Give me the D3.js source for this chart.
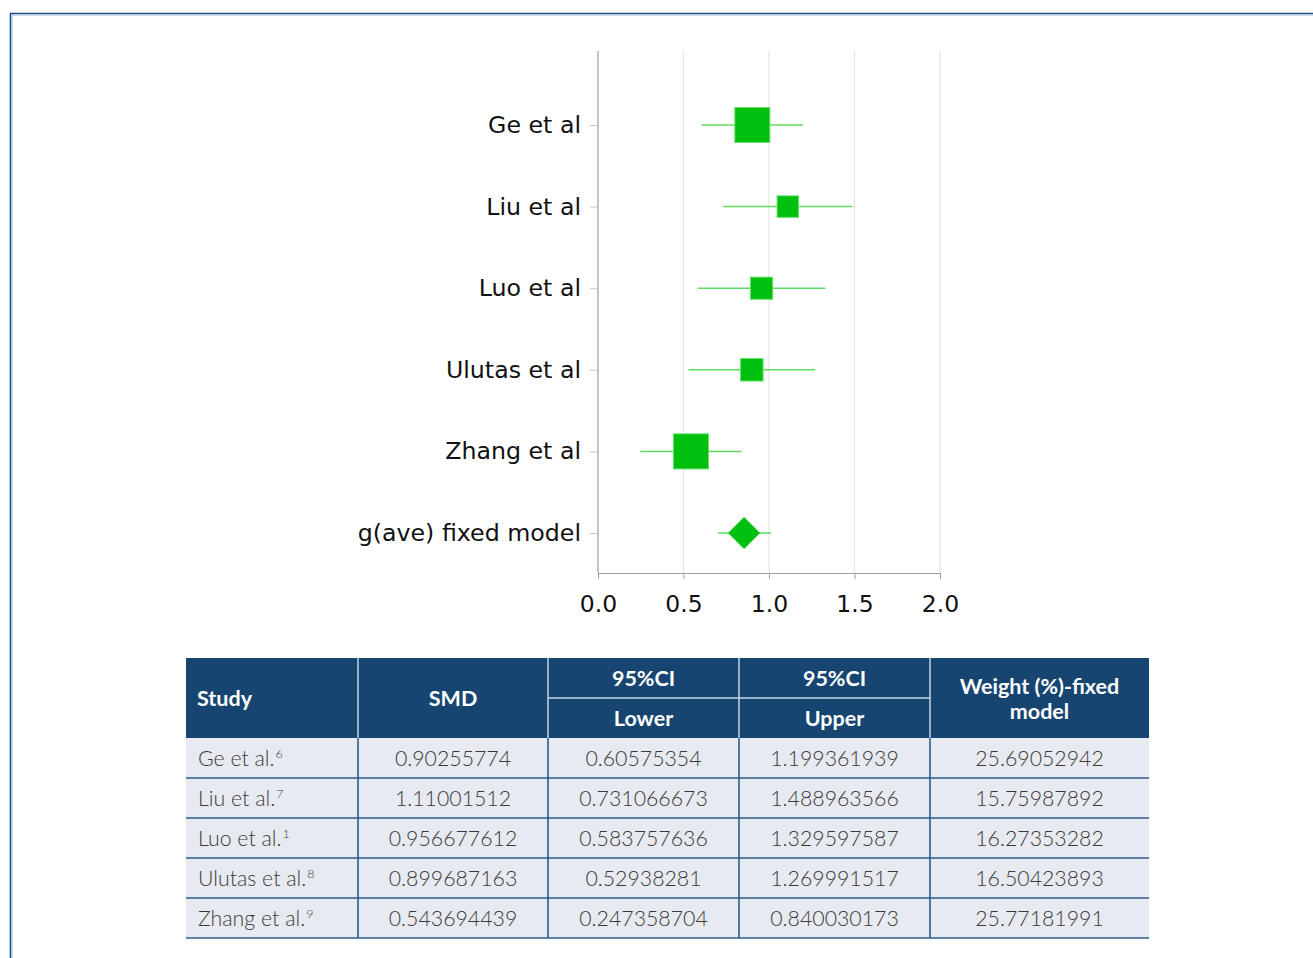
<!DOCTYPE html>
<html>
<head>
<meta charset="utf-8">
<script src="https://cdn.jsdelivr.net/npm/d3@7"></script>
<style>
  html, body { margin: 0; padding: 0; background: #ffffff; }
  svg { display: block; }
</style>
</head>
<body>
<svg id="chart" width="1313" height="958"></svg>
<script>
// ---------- data ----------
const studies = ["Ge et al", "Liu et al", "Luo et al", "Ulutas et al", "Zhang et al"];
const tableStudies = ["Ge et al.", "Liu et al.", "Luo et al.", "Ulutas et al.", "Zhang et al."];
const refs = ["6", "7", "1", "8", "9"];
const smd = [0.90255774, 1.11001512, 0.956677612, 0.899687163, 0.543694439];
const lower = [0.60575354, 0.731066673, 0.583757636, 0.52938281, 0.247358704];
const upper = [1.199361939, 1.488963566, 1.329597587, 1.269991517, 0.840030173];
const weight = [25.69052942, 15.75987892, 16.27353282, 16.50423893, 25.77181991];
const smdText = ["0.90255774", "1.11001512", "0.956677612", "0.899687163", "0.543694439"];
const lowerText = ["0.60575354", "0.731066673", "0.583757636", "0.52938281", "0.247358704"];
const upperText = ["1.199361939", "1.488963566", "1.329597587", "1.269991517", "0.840030173"];
const weightText = ["25.69052942", "15.75987892", "16.27353282", "16.50423893", "25.77181991"];
const pooledLabel = "g(ave) fixed model";
const pooled = 0.854;
const pooledLower = 0.702;
const pooledUpper = 1.012;
const xTicks = [0, 0.5, 1.0, 1.5, 2.0];

const svg = d3.select("#chart");

// ---------- frame ----------
svg.append("path").attr("d", "M10.5,958 V13.5 H1313")
  .attr("fill", "none").attr("stroke", "#1f4f86").attr("stroke-width", 1.6);
svg.append("path").attr("d", "M12,958 V15 H1313")
  .attr("fill", "none").attr("stroke", "#9dbbe0").attr("stroke-width", 1);

// ---------- forest plot ----------
const x = d3.scaleLinear().domain([0, 2]).range([598, 940]);
const rows = studies.concat([pooledLabel]);
const y = d3.scalePoint().domain(rows).range([125, 533]);
const plotTop = 51, plotBottom = 573;
const size = d3.scaleLinear().domain([0, 25.7]).range([0, 35]);
const plotFont = "'DejaVu Sans', Verdana, sans-serif";

const g = svg.append("g");

// grid lines
g.selectAll("line.grid").data(xTicks.slice(1)).join("line")
  .attr("class", "grid")
  .attr("x1", d => x(d)).attr("x2", d => x(d))
  .attr("y1", plotTop).attr("y2", plotBottom)
  .attr("stroke", "#e3e3e3").attr("stroke-width", 1.2);

// x axis
const xAxis = d3.axisBottom(x).tickValues(xTicks).tickFormat(d3.format(".1f")).tickSize(6).tickSizeOuter(0);
const gx = g.append("g").attr("transform", `translate(0,${plotBottom})`).call(xAxis);
gx.select(".domain").attr("stroke", "#a0a0a0").attr("stroke-width", 1.2);
gx.selectAll(".tick line").attr("stroke", "#a0a0a0");
gx.selectAll(".tick text").attr("font-family", plotFont)
  .attr("font-size", 23.5).attr("fill", "#111").attr("dy", "0").attr("y", 39);

// y axis
const yAxis = d3.axisLeft(y).tickSize(8).tickPadding(9).tickSizeOuter(0);
const gy = g.append("g").attr("transform", `translate(598,0)`).call(yAxis);
gy.select(".domain").attr("d", `M0,${plotTop}V${plotBottom}`).attr("stroke", "#a0a0a0").attr("stroke-width", 1.2);
gy.selectAll(".tick line").attr("stroke", "#c8c8c8");
gy.selectAll(".tick text").attr("font-family", plotFont)
  .attr("font-size", 23.7).attr("fill", "#111");

// CI lines
const ciData = studies.map((s, i) => ({ s, lo: lower[i], hi: upper[i] }))
  .concat([{ s: pooledLabel, lo: pooledLower, hi: pooledUpper }]);
g.selectAll("line.ci").data(ciData).join("line")
  .attr("class", "ci")
  .attr("x1", d => x(d.lo)).attr("x2", d => x(d.hi))
  .attr("y1", d => y(d.s)).attr("y2", d => y(d.s))
  .attr("stroke", "#5fdc5f").attr("stroke-width", 1.5);

// squares
g.selectAll("rect.pt").data(studies.map((s, i) => ({ s, v: smd[i], w: weight[i] }))).join("rect")
  .attr("class", "pt")
  .attr("x", d => x(d.v) - size(d.w) / 2)
  .attr("y", d => y(d.s) - size(d.w) / 2)
  .attr("width", d => size(d.w)).attr("height", d => size(d.w))
  .attr("fill", "#00c00f").attr("stroke", "#66e06a").attr("stroke-width", 1);

// diamond
const dx = x(pooled), dy = y(pooledLabel), hw = 16, hh = 16;
g.append("path")
  .attr("d", `M${dx - hw},${dy} L${dx},${dy - hh} L${dx + hw},${dy} L${dx},${dy + hh} Z`)
  .attr("fill", "#00c00f");

// ---------- table ----------
const colEdges = [186, 358, 548, 739, 930, 1149];
const headTop = 658, headMid = 698, headBottom = 738, rowH = 40;
const headBg = "#174572";
const rowBg = "#e7eaf0";
const lineColor = "#2d5b8c";
const t = svg.append("g");

t.append("rect").attr("x", colEdges[0]).attr("y", headTop)
  .attr("width", colEdges[5] - colEdges[0]).attr("height", headBottom - headTop)
  .attr("fill", headBg);

// header separators (light)
t.selectAll("line.hsep").data(colEdges.slice(1, 5)).join("line")
  .attr("x1", d => d).attr("x2", d => d).attr("y1", headTop).attr("y2", headBottom)
  .attr("stroke", "#c9d5e3").attr("stroke-width", 1.5);
t.append("line").attr("x1", colEdges[2]).attr("x2", colEdges[4])
  .attr("y1", headMid).attr("y2", headMid)
  .attr("stroke", "#c9d5e3").attr("stroke-width", 1.5);

const headFont = "Lato, 'Open Sans', sans-serif";
function headText(txt, xx, yy, anchor) {
  t.append("text").attr("x", xx).attr("y", yy).attr("text-anchor", anchor || "middle")
    .attr("dominant-baseline", "central")
    .attr("font-family", headFont).attr("font-weight", 700).attr("font-size", 21.5)
    .attr("fill", "#ffffff").text(txt);
}
headText("Study", 197, 698, "start");
headText("SMD", (colEdges[1] + colEdges[2]) / 2, 698);
headText("95%CI", (colEdges[2] + colEdges[3]) / 2, 678);
headText("Lower", (colEdges[2] + colEdges[3]) / 2, 718);
headText("95%CI", (colEdges[3] + colEdges[4]) / 2, 678);
headText("Upper", (colEdges[3] + colEdges[4]) / 2, 718);
headText("Weight (%)-fixed", (colEdges[4] + colEdges[5]) / 2, 686);
headText("model", (colEdges[4] + colEdges[5]) / 2, 711);

// body rows
const body = tableStudies.map((s, i) => ({ s, ref: refs[i], vals: [smdText[i], lowerText[i], upperText[i], weightText[i]] }));
const rowG = t.selectAll("g.row").data(body).join("g")
  .attr("class", "row")
  .attr("transform", (d, i) => `translate(0,${headBottom + i * rowH})`);
rowG.append("rect").attr("x", colEdges[0]).attr("y", 0)
  .attr("width", colEdges[5] - colEdges[0]).attr("height", rowH).attr("fill", rowBg);
const st = rowG.append("text").attr("x", 198).attr("y", rowH / 2)
  .attr("dominant-baseline", "central")
  .attr("font-family", headFont).attr("font-weight", 300).attr("font-size", 21.3)
  .attr("fill", "#3a3a3a");
st.append("tspan").text(d => d.s);
st.append("tspan").attr("font-size", 12.5).attr("dy", -5).attr("dx", 1).text(d => d.ref);
rowG.each(function (d) {
  d3.select(this).selectAll("text.val").data(d.vals).join("text")
    .attr("class", "val")
    .attr("x", (v, j) => (colEdges[j + 1] + colEdges[j + 2]) / 2)
    .attr("y", rowH / 2)
    .attr("text-anchor", "middle").attr("dominant-baseline", "central")
    .attr("font-family", headFont).attr("font-weight", 300).attr("font-size", 21.3)
    .attr("fill", "#3a3a3a").text(v => v);
});

// body lines
const nRows = body.length;
t.selectAll("line.rline").data(d3.range(1, nRows + 1)).join("line")
  .attr("x1", colEdges[0]).attr("x2", colEdges[5])
  .attr("y1", i => headBottom + i * rowH).attr("y2", i => headBottom + i * rowH)
  .attr("stroke", lineColor).attr("stroke-width", 1.6);
t.selectAll("line.cline").data(colEdges.slice(1, 5)).join("line")
  .attr("x1", d => d).attr("x2", d => d)
  .attr("y1", headBottom).attr("y2", headBottom + nRows * rowH)
  .attr("stroke", lineColor).attr("stroke-width", 1.6);
</script>
</body>
</html>
